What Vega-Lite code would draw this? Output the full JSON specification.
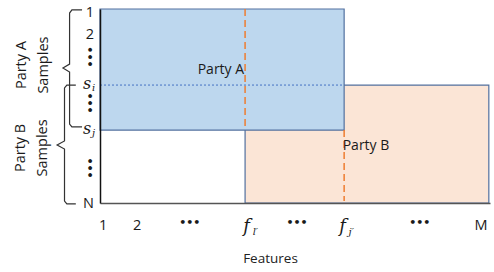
{
  "$schema": "https://vega.github.io/schema/vega-lite/v6.json",
  "width": 390,
  "height": 194,
  "autosize": "none",
  "padding": {"left": 100, "top": 9, "right": 4, "bottom": 69},
  "background": "white",
  "config": {"view": {"stroke": null}, "font": "Open Sans"},
  "datasets": {
    "rects": [
      {"party": "Party B", "f0": 37.2, "f1": 99.7, "s0": 39.2, "s1": 100},
      {"party": "Party A", "f0": 0, "f1": 62.6, "s0": 0, "s1": 62.4}
    ],
    "partyLabels": [
      {"label": "Party A", "f": 31.0, "s": 31.4},
      {"label": "Party B", "f": 68.2, "s": 70.6}
    ],
    "dotted": [{"f": 0, "f2": 62.6, "s": 39.2}],
    "dashed": [
      {"f": 37.2, "s": 0, "s2": 62.4},
      {"f": 62.6, "s": 62.4, "s2": 99}
    ],
    "brackets": [
      {"b": "A", "i": 0, "f": -4.6, "s": 0.5},
      {"b": "A", "i": 1, "f": -7.2, "s": 0.5},
      {"b": "A", "i": 2, "f": -7.8, "s": 2.1},
      {"b": "A", "i": 3, "f": -7.8, "s": 28.4},
      {"b": "A", "i": 4, "f": -9.5, "s": 30.4},
      {"b": "A", "i": 5, "f": -7.8, "s": 32.5},
      {"b": "A", "i": 6, "f": -7.8, "s": 59.3},
      {"b": "A", "i": 7, "f": -7.2, "s": 60.8},
      {"b": "A", "i": 8, "f": -4.6, "s": 60.8},
      {"b": "B", "i": 0, "f": -6.2, "s": 39.2},
      {"b": "B", "i": 1, "f": -8.5, "s": 39.2},
      {"b": "B", "i": 2, "f": -9.1, "s": 40.7},
      {"b": "B", "i": 3, "f": -9.1, "s": 68.0},
      {"b": "B", "i": 4, "f": -11.0, "s": 70.1},
      {"b": "B", "i": 5, "f": -9.1, "s": 72.2},
      {"b": "B", "i": 6, "f": -9.1, "s": 99.0},
      {"b": "B", "i": 7, "f": -8.5, "s": 100.5},
      {"b": "B", "i": 8, "f": -6.2, "s": 100.5}
    ],
    "sideTitles": [
      {"label": ["Party A", "Samples"], "f": -20.0, "s": 28.9},
      {"label": ["Party B", "Samples"], "f": -20.3, "s": 71.6}
    ],
    "yPlain": [
      {"label": "1", "s": 2.1},
      {"label": "2", "s": 13.4},
      {"label": "N", "s": 100.5}
    ],
    "yDots": [{"s": 24.7}, {"s": 48.5}, {"s": 82}],
    "yMath": [
      {"main": "s", "sub": "i", "s": 39.2},
      {"main": "s", "sub": "j", "s": 62.4}
    ],
    "xPlain": [
      {"label": "1", "f": 0.8},
      {"label": "2", "f": 9.5},
      {"label": "M", "f": 97.7}
    ],
    "xDots": [{"f": 23}, {"f": 50.5}, {"f": 82}],
    "xMath": [
      {"main": "f", "sub": "l′", "f": 37.6},
      {"main": "f", "sub": "j′", "f": 62.2}
    ]
  },
  "layer": [
    {
      "data": {"name": "rects"},
      "mark": {"type": "rect", "stroke": "#52709f", "strokeWidth": 1.2},
      "encoding": {
        "x": {"field": "f0", "type": "quantitative", "scale": {"domain": [0, 100], "nice": false, "zero": false},
              "axis": {"title": "Features", "labels": false, "ticks": false, "grid": false, "domainColor": "#555555", "domainWidth": 1.5,
                       "titleFont": "Open Sans", "titleFontSize": 13.5, "titleFontWeight": "normal", "titleColor": "#222222",
                       "titleAnchor": "start", "titleAlign": "center", "titleX": 170, "titleY": 55, "titleBaseline": "middle", "zindex": 1}},
        "x2": {"field": "f1"},
        "y": {"field": "s0", "type": "quantitative", "scale": {"domain": [0, 100], "nice": false, "zero": false, "reverse": true},
              "axis": {"title": null, "labels": false, "ticks": false, "grid": false, "domainColor": "#111111", "domainWidth": 1.5, "zindex": 1}},
        "y2": {"field": "s1"},
        "fill": {"field": "party", "type": "nominal", "scale": {"domain": ["Party A", "Party B"], "range": ["#bdd7ee", "#fbe5d6"]}, "legend": null}
      }
    },
    {
      "data": {"name": "dotted"},
      "mark": {"type": "rule", "color": "#4472c4", "strokeWidth": 1, "strokeDash": [2, 2]},
      "encoding": {
        "x": {"field": "f", "type": "quantitative"},
        "x2": {"field": "f2"},
        "y": {"field": "s", "type": "quantitative"}
      }
    },
    {
      "data": {"name": "dashed"},
      "mark": {"type": "rule", "color": "#ed7d31", "strokeWidth": 1.5, "strokeDash": [7, 4]},
      "encoding": {
        "x": {"field": "f", "type": "quantitative"},
        "y": {"field": "s", "type": "quantitative"},
        "y2": {"field": "s2"}
      }
    },
    {
      "data": {"name": "brackets"},
      "mark": {"type": "line", "color": "#333333", "strokeWidth": 1.2, "clip": false},
      "encoding": {
        "x": {"field": "f", "type": "quantitative"},
        "y": {"field": "s", "type": "quantitative"},
        "detail": {"field": "b"},
        "order": {"field": "i", "type": "quantitative"}
      }
    },
    {
      "data": {"name": "partyLabels"},
      "mark": {"type": "text", "font": "Open Sans", "fontSize": 14, "color": "#1a1a1a", "align": "center", "baseline": "middle"},
      "encoding": {
        "x": {"field": "f", "type": "quantitative"},
        "y": {"field": "s", "type": "quantitative"},
        "text": {"field": "label"}
      }
    },
    {
      "data": {"name": "sideTitles"},
      "mark": {"type": "text", "font": "Open Sans", "fontSize": 14.5, "color": "#1a1a1a", "align": "center", "baseline": "middle", "angle": 270, "lineHeight": 22},
      "encoding": {
        "x": {"field": "f", "type": "quantitative"},
        "y": {"field": "s", "type": "quantitative"},
        "text": {"field": "label"}
      }
    },
    {
      "data": {"name": "yPlain"},
      "mark": {"type": "text", "font": "Open Sans", "fontSize": 14.5, "color": "#1a1a1a", "align": "right", "baseline": "middle", "dx": -6},
      "encoding": {
        "x": {"datum": 0, "type": "quantitative"},
        "y": {"field": "s", "type": "quantitative"},
        "text": {"field": "label"}
      }
    },
    {
      "data": {"name": "yDots"},
      "mark": {"type": "text", "font": "DejaVu Sans", "fontSize": 11, "fontWeight": "bold", "color": "#1a1a1a", "align": "center", "baseline": "middle", "dy": 11, "angle": 90},
      "encoding": {
        "x": {"datum": 0, "type": "quantitative"},
        "y": {"field": "s", "type": "quantitative"},
        "text": {"value": "•••"}
      }
    },
    {
      "data": {"name": "yMath"},
      "mark": {"type": "text", "font": "DejaVu Serif", "fontStyle": "italic", "fontSize": 16, "color": "#1a1a1a", "align": "center", "baseline": "alphabetic", "dx": -13, "dy": 4},
      "encoding": {
        "x": {"datum": 0, "type": "quantitative"},
        "y": {"field": "s", "type": "quantitative"},
        "text": {"field": "main"}
      }
    },
    {
      "data": {"name": "yMath"},
      "mark": {"type": "text", "font": "DejaVu Serif", "fontStyle": "italic", "fontSize": 10, "color": "#1a1a1a", "align": "left", "baseline": "alphabetic", "dx": -8, "dy": 6},
      "encoding": {
        "x": {"datum": 0, "type": "quantitative"},
        "y": {"field": "s", "type": "quantitative"},
        "text": {"field": "sub"}
      }
    },
    {
      "data": {"name": "xPlain"},
      "mark": {"type": "text", "font": "Open Sans", "fontSize": 14.5, "color": "#1a1a1a", "align": "center", "baseline": "middle", "dy": 23},
      "encoding": {
        "x": {"field": "f", "type": "quantitative"},
        "y": {"datum": 100, "type": "quantitative"},
        "text": {"field": "label"}
      }
    },
    {
      "data": {"name": "xDots"},
      "mark": {"type": "text", "font": "DejaVu Sans", "fontSize": 11, "fontWeight": "bold", "color": "#1a1a1a", "align": "center", "baseline": "middle", "dy": 20},
      "encoding": {
        "x": {"field": "f", "type": "quantitative"},
        "y": {"datum": 100, "type": "quantitative"},
        "text": {"value": "•••"}
      }
    },
    {
      "data": {"name": "xMath"},
      "mark": {"type": "text", "font": "DejaVu Serif", "fontStyle": "italic", "fontSize": 18, "color": "#1a1a1a", "align": "center", "baseline": "alphabetic", "dy": 29},
      "encoding": {
        "x": {"field": "f", "type": "quantitative"},
        "y": {"datum": 100, "type": "quantitative"},
        "text": {"field": "main"}
      }
    },
    {
      "data": {"name": "xMath"},
      "mark": {"type": "text", "font": "DejaVu Serif", "fontStyle": "italic", "fontSize": 10, "color": "#1a1a1a", "align": "left", "baseline": "alphabetic", "dx": 6, "dy": 32},
      "encoding": {
        "x": {"field": "f", "type": "quantitative"},
        "y": {"datum": 100, "type": "quantitative"},
        "text": {"field": "sub"}
      }
    }
  ]
}
